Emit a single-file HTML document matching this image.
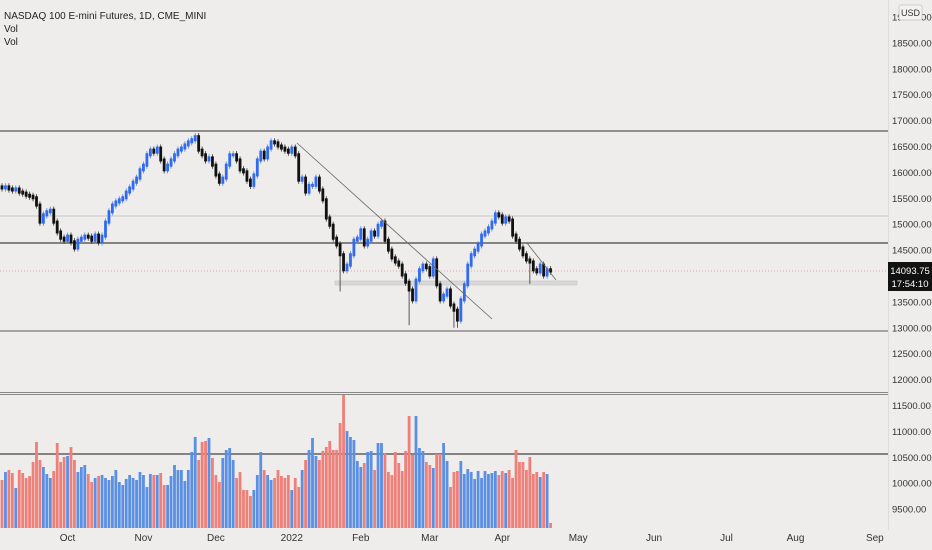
<!DOCTYPE html>
<html><head><meta charset="utf-8"><style>
body{margin:0;background:#eeedeb;font-family:"Liberation Sans",sans-serif;}
svg{display:block}
</style></head><body>
<svg id="chart" width="932" height="550" xmlns="http://www.w3.org/2000/svg">
<rect width="932" height="550" fill="#eeedeb"/>
<g id="grid">
<line x1="0" y1="131" x2="888" y2="131" stroke="#555" stroke-width="1.3"/>
<line x1="0" y1="216" x2="888" y2="216" stroke="#c8c8c8" stroke-width="1"/>
<line x1="0" y1="243" x2="888" y2="243" stroke="#444" stroke-width="1.2"/>
<line x1="0" y1="271" x2="888" y2="271" stroke="#e8a0a0" stroke-width="1" stroke-dasharray="1,2"/>
<line x1="0" y1="331" x2="888" y2="331" stroke="#777" stroke-width="1.2"/>
<rect x="335" y="281" width="242" height="4" fill="#d8d8d8" stroke="#c4c4c4" stroke-width="0.6"/>
<line x1="0" y1="392.5" x2="888" y2="392.5" stroke="#888" stroke-width="1"/>
<line x1="0" y1="394.5" x2="888" y2="394.5" stroke="#888" stroke-width="1"/>
<line x1="0" y1="454" x2="888" y2="454" stroke="#444" stroke-width="1.2"/>
<line x1="888.5" y1="0" x2="888.5" y2="530" stroke="#dcdcdc"/>
</g>
<g id="vol"></g>
<g id="candles"></g>
<g>
<line x1="297" y1="143" x2="492" y2="319" stroke="#666" stroke-width="0.8"/>
<line x1="527" y1="243" x2="556" y2="280" stroke="#666" stroke-width="0.8"/>
</g>
<g id="axis"></g>
<g id="taxis"></g>
<text x="4" y="19" font-size="10" fill="#222">NASDAQ 100 E-mini Futures, 1D, CME_MINI</text>
<text x="4" y="32" font-size="10" fill="#222">Vol</text>
<text x="4" y="45" font-size="10" fill="#222">Vol</text>
<rect x="899" y="5" width="23" height="15" rx="2" fill="#f3f3f3" stroke="#ccc"/>
<text x="910.5" y="16" font-size="9" fill="#333" text-anchor="middle">USD</text>
<rect x="888" y="262" width="44" height="29" fill="#111"/>
<text x="910" y="274" font-size="9.5" fill="#fff" text-anchor="middle">14093.75</text>
<text x="910" y="287" font-size="9.5" fill="#fff" text-anchor="middle">17:54:10</text>
</svg>
<script>
const closes=[15700,15720,15680,15660,15680,15620,15600,15560,15540,15510,
15370,15040,15180,15240,15270,15040,14850,14730,14690,14770,
14660,14540,14690,14730,14770,14750,14690,14790,14660,14770,
15040,15240,15370,15430,15470,15510,15620,15700,15810,15890,
16050,16140,16340,16430,16390,16470,16240,16050,16140,16240,
16340,16430,16470,16530,16590,16630,16690,16430,16340,16240,
16280,16140,15950,15810,15890,16140,16340,16340,16240,16050,
16010,15850,15750,15950,16240,16390,16280,16470,16590,16570,
16510,16470,16430,16390,16470,16340,15850,15890,15620,15750,
15750,15890,15660,15470,15120,14980,14730,14600,14410,14120,
14210,14410,14690,14730,14890,14600,14690,14850,14790,14980,
15040,14690,14500,14350,14270,14210,14020,13880,13730,13540,
13920,14120,14210,14160,14020,14310,13830,13540,13630,13730,
13440,13340,13150,13540,13830,14210,14410,14500,14600,14790,
14850,14930,15040,15200,15160,15040,15120,15080,14790,14690,
14540,14410,14310,14270,14120,14080,14210,14020,14120,14094];
const volumes=[48,56,58,55,40,58,55,50,52,66,
86,68,61,54,50,57,85,66,71,72,
81,68,56,61,63,54,46,50,52,53,
50,48,52,58,46,43,49,53,50,48,
56,53,41,54,53,53,55,43,43,52,
63,58,58,47,58,76,91,68,86,87,
90,70,53,46,70,78,80,68,50,56,
38,38,32,38,53,76,58,53,48,50,
58,52,50,53,38,50,41,58,68,78,
90,72,68,77,81,87,78,78,105,133,
97,91,88,67,61,65,76,77,58,85,
85,75,56,53,76,65,57,77,112,73,
112,80,77,66,63,60,74,74,85,67,
41,56,57,67,54,59,56,49,57,50,
57,54,55,57,53,57,55,58,50,78,
66,66,58,71,54,56,51,56,54,5];
const longLows={98:13700,118:13050,131:13000,132:13000,153:13850};
const priceTicks=[19000,18500,18000,17500,17000,16500,16000,15500,15000,14500,13500,13000,12500,12000,11500,11000,10500,10000,9500];
const monthLabels=["Oct","Nov","Dec","2022","Feb","Mar","Apr","May","Jun","Jul","Aug","Sep"];
const monthBars=[19,41,62,84,104,124,145,167,189,210,230,253];
const NS="http://www.w3.org/2000/svg";
const xOf=i=>2+i*3.45;
const yP=p=>276-(p-14000)*0.0518;
const yV=v=>528-v;
function mk(t,a,parent){const e=document.createElementNS(NS,t);for(const k in a)e.setAttribute(k,a[k]);parent.appendChild(e);return e;}
const cg=document.getElementById('candles'),vg=document.getElementById('vol');
closes.forEach((c,i)=>{
 const o=i?closes[i-1]:c+20;const up=c>=o;
 const hi=Math.max(o,c)+70;const lo=longLows[i]!==undefined?longLows[i]:Math.min(o,c)-70;
 const x=xOf(i);
 const w=mk('line',{x1:x,x2:x,y1:yP(hi),y2:yP(lo),stroke:up?'#5b7fd6':'#333','stroke-width':0.8},cg);
 
 
 const top=yP(Math.max(o,c))-1.5,bot=yP(Math.min(o,c))+1.5;
 const b=mk('rect',{x:x-1.4,y:top,width:2.8,height:Math.max(3,bot-top),fill:up?'#2f6af0':'#111'},cg);
 
 
 const v=mk('rect',{x:x-1.4,y:yV(volumes[i]),width:2.8,height:volumes[i],fill:up?'#5a8fe3':'#ef7f78'},vg);
 
 
});
const ag=document.getElementById('axis');
priceTicks.forEach(p=>{const t=mk('text',{x:892,y:yP(p)+3.5,'font-size':9.5,fill:'#333'},ag);t.textContent=p.toFixed(2);
 
 });
const tg=document.getElementById('taxis');
monthLabels.forEach((m,k)=>{const t=mk('text',{x:xOf(monthBars[k]),y:541,'font-size':10,fill:'#333','text-anchor':'middle'},tg);t.textContent=m;
 
 });
</script>
</body></html>
